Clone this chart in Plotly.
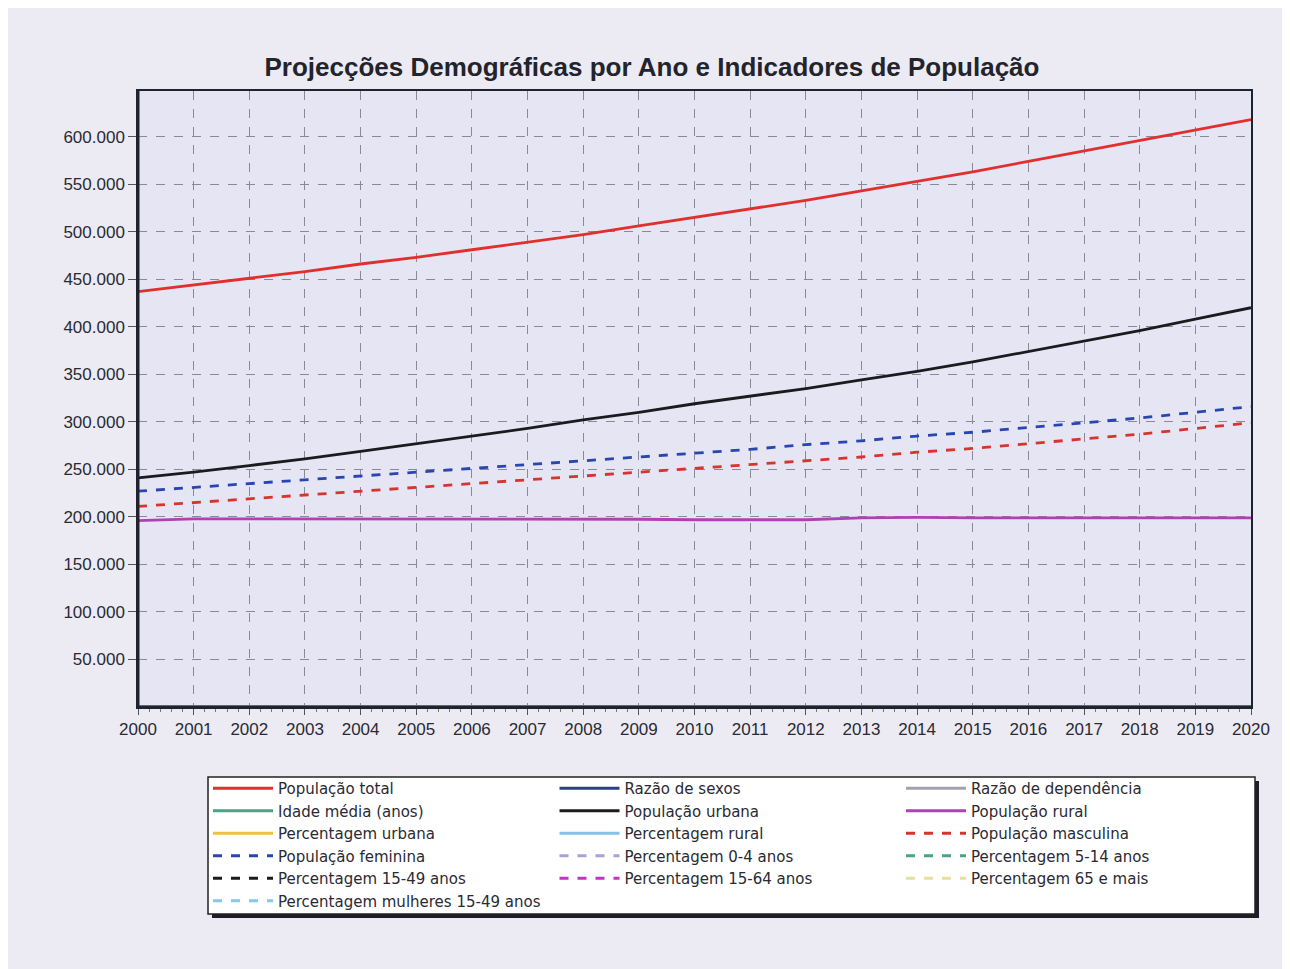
import plotly.graph_objects as go

years = list(range(2000, 2021))

pop_total = [437000, 444000, 451000, 458000, 466000, 473000, 481000, 489000, 497000, 506000,
             515000, 524000, 533000, 543000, 553000, 563000, 574000, 585000, 596000, 607000, 618000]
razao_sexos = [93, 93, 93, 93, 93, 93, 93, 94, 94, 94, 94, 94, 94, 94, 94, 95, 95, 95, 95, 95, 95]
razao_dependencia = [95, 94, 93, 92, 91, 90, 89, 88, 87, 86, 85, 85, 84, 84, 83, 83, 82, 82, 81, 81, 80]
idade_media = [17, 17, 17, 17, 17, 18, 18, 18, 18, 18, 18, 18, 18, 19, 19, 19, 19, 19, 19, 19, 19]
pop_urbana = [241000, 247000, 254000, 261000, 269000, 277000, 285000, 293000, 302000, 310000,
              319000, 327000, 335000, 344000, 353000, 363000, 374000, 385000, 396000, 408000, 420000]
pop_rural = [196000, 198000, 198000, 198000, 198000, 198000, 198000, 198000, 197500, 197500,
             197000, 197000, 197000, 199000, 199500, 199000, 199000, 199000, 199000, 199000, 199000]
perc_urbana = [55, 56, 56, 57, 58, 58, 59, 60, 60, 61, 62, 62, 63, 63, 64, 64, 65, 66, 66, 67, 68]
perc_rural = [45, 44, 44, 43, 42, 42, 41, 40, 40, 39, 38, 38, 37, 37, 36, 36, 35, 34, 34, 33, 32]
pop_masculina = [211000, 215000, 219000, 223000, 227000, 231000, 235000, 239000, 243000, 247000,
                 251000, 255000, 259000, 263000, 268000, 272000, 277000, 282000, 287000, 293000, 299000]
pop_feminina = [227000, 231000, 235000, 239000, 243000, 247000, 251000, 255000, 259000, 263000,
                267000, 271000, 276000, 280000, 285000, 289000, 294000, 299000, 304000, 310000, 316000]
perc_0_4 = [17, 17, 17, 17, 17, 16, 16, 16, 16, 16, 16, 16, 16, 15, 15, 15, 15, 15, 15, 15, 15]
perc_5_14 = [28, 28, 28, 28, 27, 27, 27, 27, 27, 26, 26, 26, 26, 26, 26, 25, 25, 25, 25, 25, 25]
perc_15_49 = [47, 47, 47, 48, 48, 48, 48, 48, 49, 49, 49, 49, 49, 49, 50, 50, 50, 50, 50, 50, 50]
perc_15_64 = [52, 52, 52, 53, 53, 53, 53, 53, 54, 54, 54, 54, 54, 54, 55, 55, 55, 55, 55, 55, 55]
perc_65 = [4, 4, 4, 4, 4, 4, 4, 4, 4, 4, 4, 5, 5, 5, 5, 5, 5, 5, 5, 5, 5]
perc_mulheres_15_49 = [24, 24, 24, 24, 24, 24, 24, 24, 24, 25, 25, 25, 25, 25, 25, 25, 25, 25, 25, 25, 25]

y_ticks = [50000, 100000, 150000, 200000, 250000, 300000, 350000, 400000,
           450000, 500000, 550000, 600000]
y_tick_labels = ["50.000", "100.000", "150.000", "200.000", "250.000", "300.000",
                 "350.000", "400.000", "450.000", "500.000", "550.000", "600.000"]

series = [
    ("População total", pop_total, "#e0302e", "solid"),
    ("Razão de sexos", razao_sexos, "#2c3f8c", "solid"),
    ("Razão de dependência", razao_dependencia, "#a2a2ac", "solid"),
    ("Idade média (anos)", idade_media, "#45a585", "solid"),
    ("População urbana", pop_urbana, "#1b1b1f", "solid"),
    ("População rural", pop_rural, "#b23fb6", "solid"),
    ("Percentagem urbana", perc_urbana, "#f0c040", "solid"),
    ("Percentagem rural", perc_rural, "#84c2ea", "solid"),
    ("População masculina", pop_masculina, "#d8342f", "dash"),
    ("População feminina", pop_feminina, "#2846b0", "dash"),
    ("Percentagem 0-4 anos", perc_0_4, "#a4a4d2", "dash"),
    ("Percentagem 5-14 anos", perc_5_14, "#45a585", "dash"),
    ("Percentagem 15-49 anos", perc_15_49, "#1b1b1f", "dash"),
    ("Percentagem 15-64 anos", perc_15_64, "#c234c4", "dash"),
    ("Percentagem 65 e mais", perc_65, "#e8e0a0", "dash"),
    ("Percentagem mulheres 15-49 anos", perc_mulheres_15_49, "#84c8f0", "dash"),
]

fig = go.Figure()
for name, vals, color, dash in series:
    fig.add_trace(go.Scatter(
        x=years, y=vals, name=name, mode="lines",
        line=dict(color=color, width=2.8, dash=dash),
    ))

# page body has an 8px margin; figure coords = screen coords - 8
OFF = 8
W, H = 1290, 969
L, R, T, B = 138 - OFF, 1251 - OFF, 91 - OFF, 707 - OFF
pw, ph = R - L, B - T

def px_x(p):
    return (p - OFF - L) / pw

def px_y(p):
    return (B - (p - OFF)) / ph

shapes = [
    # legend shadow
    dict(type="rect", xref="paper", yref="paper",
         x0=px_x(212), x1=px_x(1259), y0=px_y(918), y1=px_y(781),
         fillcolor="#1e1e28", line=dict(width=0), layer="above"),
    # legend box
    dict(type="rect", xref="paper", yref="paper",
         x0=px_x(208), x1=px_x(1255), y0=px_y(914), y1=px_y(777),
         fillcolor="#ffffff", line=dict(color="#222", width=1.5), layer="above"),
    # thick left and bottom axis lines
    dict(type="line", xref="paper", yref="paper", x0=0, x1=0, y0=0, y1=1,
         line=dict(color="#20222e", width=3), layer="above"),
    dict(type="line", xref="paper", yref="paper", x0=0, x1=1, y0=0, y1=0,
         line=dict(color="#20222e", width=3), layer="above"),
]

fig.update_layout(
    width=W, height=H,
    margin=dict(l=L, r=W - R, t=T, b=H - B),
    paper_bgcolor="#ecebf3",
    plot_bgcolor="#e6e5f4",
    font=dict(family="Liberation Sans, Arial, sans-serif", size=17, color="#2a2a33"),
    title=dict(
        text="<b>Projecções Demográficas por Ano e Indicadores de População</b>",
        x=(652 - OFF) / W, xref="container", xanchor="center",
        y=1 - (67 - OFF) / H, yref="container", yanchor="middle",
        font=dict(size=26, color="#23232c", family="Liberation Sans, Arial, sans-serif"),
    ),
    xaxis=dict(
        range=[2000, 2020], tickmode="array", tickvals=years,
        ticktext=[str(y) for y in years],
        showgrid=True, gridcolor="#8a8a96", griddash="dash", gridwidth=1,
        showline=True, linecolor="#20222e", linewidth=1.5, mirror=True,
        ticks="outside", ticklen=6, tickcolor="#555",
        minor=dict(dtick=0.2, ticks="outside", ticklen=3, tickcolor="#777", showgrid=False),
        tickfont=dict(size=17, color="#2a2a33"),
        zeroline=False, fixedrange=True,
    ),
    yaxis=dict(
        range=[0, 648000], tickmode="array", tickvals=y_ticks, ticktext=y_tick_labels,
        showgrid=True, gridcolor="#8a8a96", griddash="dash", gridwidth=1,
        showline=True, linecolor="#20222e", linewidth=1.5, mirror=True,
        ticks="outside", ticklen=8, tickcolor="#555",
        tickfont=dict(size=17, color="#2a2a33"),
        zeroline=False, fixedrange=True,
    ),
    legend=dict(
        orientation="h",
        x=px_x(208), xanchor="left",
        y=px_y(772), yanchor="top",
        bgcolor="rgba(0,0,0,0)", borderwidth=0,
        entrywidth=271.5, entrywidthmode="pixels",
        font=dict(size=15, color="#2a2a33", family="DejaVu Sans, Verdana, sans-serif"),
        itemwidth=60,
        traceorder="normal",
    ),
    shapes=shapes,
)

fig.write_html("out.html")
